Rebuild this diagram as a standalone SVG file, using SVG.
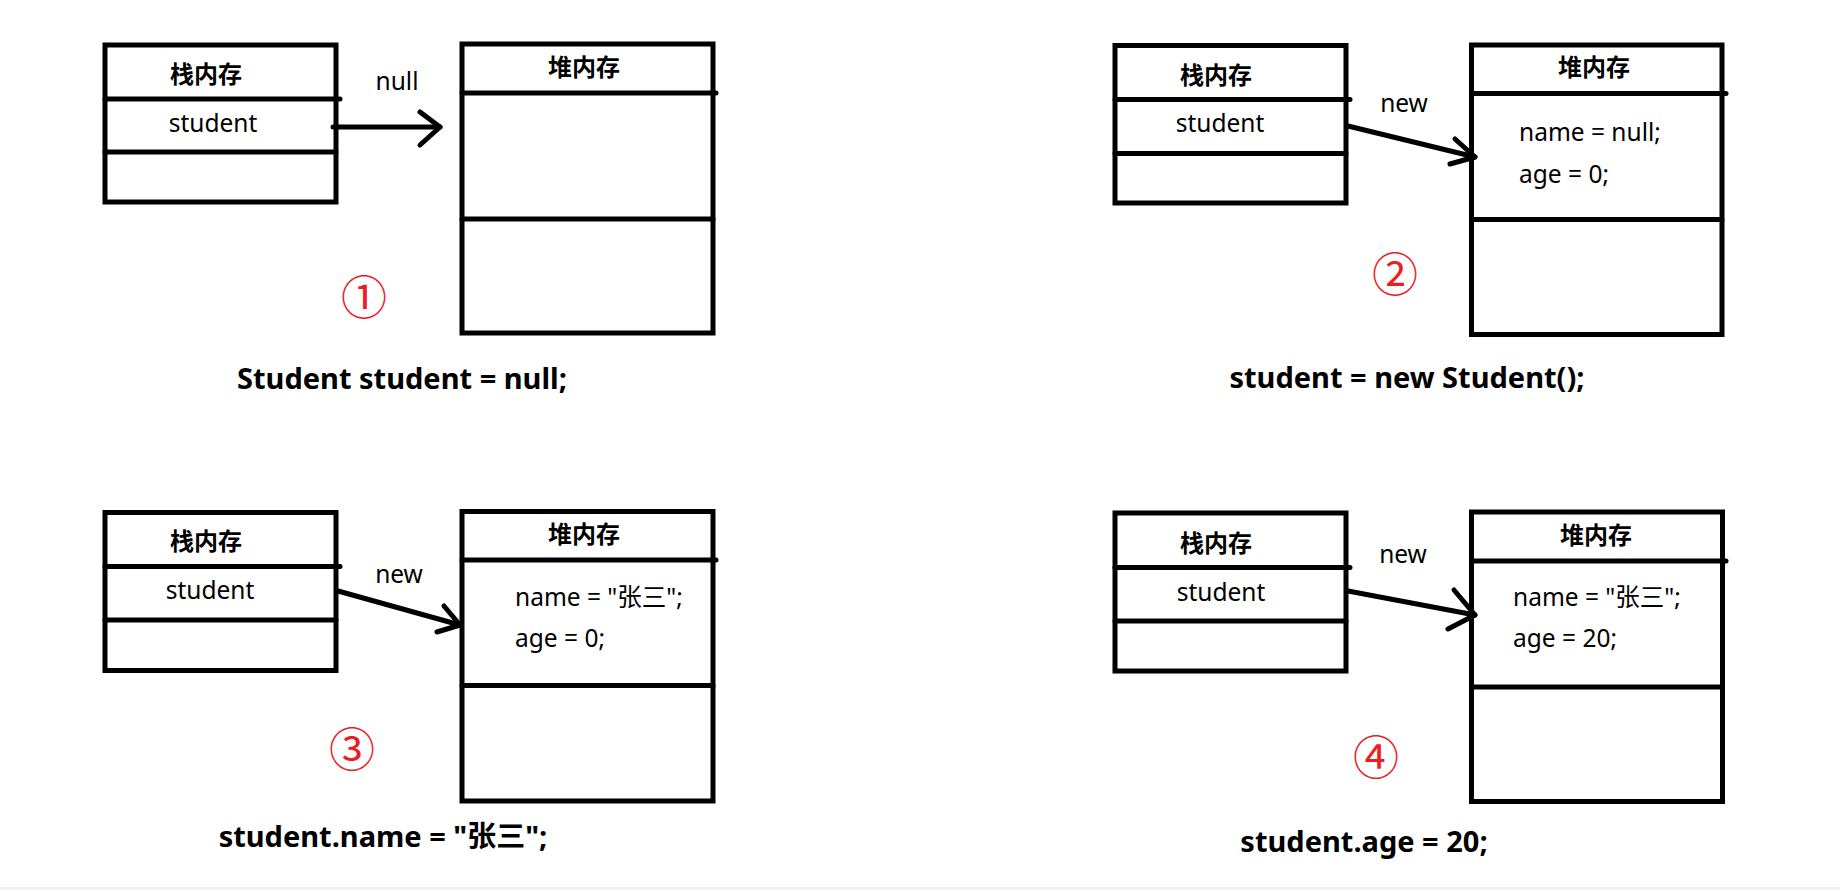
<svg xmlns="http://www.w3.org/2000/svg" width="1840" height="890" viewBox="0 0 1840 890">
<style>
  .box { fill: #ffffff; stroke: #000000; stroke-width: 5; }
  .sep { stroke: #000000; stroke-width: 5; stroke-linecap: round; fill: none; }
  .arrow { stroke: #000000; stroke-width: 5; stroke-linecap: round; stroke-linejoin: round; fill: none; }
  .t { font-family: "Noto Sans", "Noto Sans CJK SC", sans-serif; fill: #000000; }
  .hdr { font-size: 24px; font-weight: bold; text-anchor: middle; }
  .lbl { font-size: 24.5px; text-anchor: middle; }
  .fld { font-size: 24.5px; }
  .code { font-size: 29px; font-weight: bold; text-anchor: middle; }
  .num { font-family: "Noto Sans CJK SC", "Noto Sans", sans-serif; font-size: 46px; fill: #ed1c24; text-anchor: middle; }
</style>
<rect x="0" y="0" width="1840" height="890" fill="#ffffff"/>
<rect x="0" y="887" width="1840" height="3" fill="#f2f2f2"/>

<!-- Panel 1 -->
<g id="stack1">
  <rect class="box" x="105" y="45" width="231" height="157"/>
  <line class="sep" x1="105" y1="99" x2="340" y2="99"/>
  <line class="sep" x1="105" y1="152" x2="336" y2="152"/>
  <text class="t hdr" x="206" y="83">栈内存</text>
  <text class="t lbl" x="213" y="132">student</text>
</g>
<g id="heap1">
  <rect class="box" x="462" y="44" width="251" height="289"/>
  <line class="sep" x1="462" y1="93" x2="716" y2="93"/>
  <line class="sep" x1="462" y1="219" x2="713" y2="219"/>
  <text class="t hdr" x="584" y="76">堆内存</text>
</g>

<!-- Panel 2 -->
<g id="stack2">
  <rect class="box" x="1115" y="45.5" width="231" height="157.5"/>
  <line class="sep" x1="1115" y1="99.5" x2="1350" y2="99.5"/>
  <line class="sep" x1="1115" y1="153.5" x2="1346" y2="153.5"/>
  <text class="t hdr" x="1216" y="84">栈内存</text>
  <text class="t lbl" x="1220" y="132">student</text>
</g>
<g id="heap2">
  <rect class="box" x="1471.5" y="45" width="250.5" height="289.5"/>
  <line class="sep" x1="1471.5" y1="93.5" x2="1726" y2="93.5"/>
  <line class="sep" x1="1471.5" y1="219.5" x2="1722" y2="219.5"/>
  <text class="t hdr" x="1594" y="76">堆内存</text>
  <text class="t fld" x="1519" y="141">name = null;</text>
  <text class="t fld" x="1519" y="183">age = 0;</text>
</g>

<!-- Panel 3 -->
<g id="stack3">
  <rect class="box" x="105" y="512.5" width="231" height="158"/>
  <line class="sep" x1="105" y1="566.5" x2="340" y2="566.5"/>
  <line class="sep" x1="105" y1="620" x2="336" y2="620"/>
  <text class="t hdr" x="206" y="550">栈内存</text>
  <text class="t lbl" x="210" y="599">student</text>
</g>
<g id="heap3">
  <rect class="box" x="462" y="511.5" width="251" height="289.5"/>
  <line class="sep" x1="462" y1="560" x2="716" y2="560"/>
  <line class="sep" x1="462" y1="685.5" x2="713" y2="685.5"/>
  <text class="t hdr" x="584" y="543">堆内存</text>
  <text class="t fld" x="515" y="606">name = "张三";</text>
  <text class="t fld" x="515" y="647">age = 0;</text>
</g>

<!-- Panel 4 -->
<g id="stack4">
  <rect class="box" x="1115" y="513" width="231" height="158"/>
  <line class="sep" x1="1115" y1="567.5" x2="1350" y2="567.5"/>
  <line class="sep" x1="1115" y1="621" x2="1346" y2="621"/>
  <text class="t hdr" x="1216" y="552">栈内存</text>
  <text class="t lbl" x="1221" y="601">student</text>
</g>
<g id="heap4">
  <rect class="box" x="1471.5" y="512" width="251" height="289.5"/>
  <line class="sep" x1="1471.5" y1="561" x2="1726" y2="561"/>
  <line class="sep" x1="1471.5" y1="687" x2="1722.5" y2="687"/>
  <text class="t hdr" x="1596" y="544">堆内存</text>
  <text class="t fld" x="1513" y="606">name = "张三";</text>
  <text class="t fld" x="1513" y="647">age = 20;</text>
</g>

<!-- Connectors -->
<g id="connectors">
  <line class="arrow" x1="333" y1="127" x2="440" y2="127"/>
  <polyline class="arrow" points="420,112 440,127 420,145"/>
  <line class="arrow" x1="1348" y1="126" x2="1475" y2="157"/>
  <polyline class="arrow" points="1455,139 1475,157 1450,164"/>
  <line class="arrow" x1="338" y1="591" x2="460" y2="625"/>
  <polyline class="arrow" points="444,606 460,625 437,632"/>
  <line class="arrow" x1="1348" y1="591" x2="1475" y2="615"/>
  <polyline class="arrow" points="1454,590 1475,615 1448,629"/>
</g>

<!-- Connector labels -->
<g id="connector-labels">
  <text class="t lbl" x="397" y="90">null</text>
  <text class="t lbl" x="1404" y="112">new</text>
  <text class="t lbl" x="399" y="583">new</text>
  <text class="t lbl" x="1403" y="563">new</text>
</g>

<!-- Step numbers -->
<g id="steps">
  <text class="num" x="364" y="314">①</text>
  <text class="num" x="1395" y="291">②</text>
  <text class="num" x="352" y="766">③</text>
  <text class="num" x="1376" y="774">④</text>
</g>

<!-- Statements -->
<g id="statements">
  <text class="t code" x="402" y="389">Student student = null;</text>
  <text class="t code" x="1407" y="388">student = new Student();</text>
  <text class="t code" x="383" y="847">student.name = "张三";</text>
  <text class="t code" x="1364" y="852">student.age = 20;</text>
</g>
</svg>
